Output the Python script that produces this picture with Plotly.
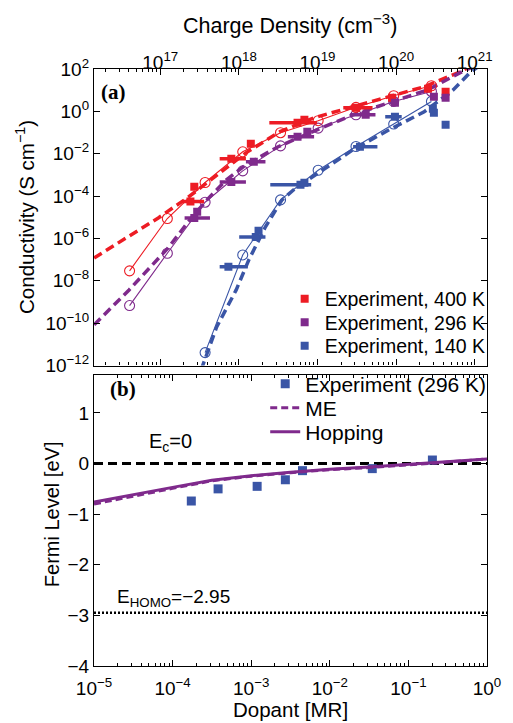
import plotly.graph_objects as go

# ---------------- Panel (a): conductivity vs charge density ----------------
# Experiment, 400 K
red_exp_N = [2.42e17, 2.71e17, 8.02e17, 1.42e18, 5.58e18, 6.82e18, 3.09e19, 8.89e19, 2.55e20, 4.27e20]
red_exp_sigma = [5.5e-5, 2.75e-4, 5.75e-3, 2.95e-2, 0.288, 0.398, 1.48, 4.37, 11.7, 8.5]
red_exp_Nlo = [1.93e17, 2.71e17, 5.70e17, 1.42e18, 2.44e18, 6.82e18, 2.13e19, 8.89e19, 2.55e20, 4.27e20]
red_exp_Nhi = [3.61e17, 2.71e17, 1.23e18, 1.42e18, 9.89e18, 6.82e18, 5.02e19, 8.89e19, 2.55e20, 4.27e20]
# Experiment, 296 K
pur_exp_N = [2.71e17, 2.95e17, 8.02e17, 1.55e18, 5.58e18, 7.43e18, 4.11e19, 9.68e19, 3.03e20, 4.27e20]
pur_exp_sigma = [9.3e-6, 1.82e-5, 4.68e-4, 4.17e-3, 0.063, 0.110, 0.692, 2.57, 4.90, 4.37]
pur_exp_Nlo = [2.04e17, 2.95e17, 5.70e17, 1.23e18, 4.20e18, 7.43e18, 2.61e19, 9.68e19, 3.03e20, 4.27e20]
pur_exp_Nhi = [4.29e17, 2.95e17, 1.23e18, 2.18e18, 9.06e18, 7.43e18, 5.47e19, 9.68e19, 3.03e20, 4.27e20]
# Experiment, 140 K
blu_exp_N = [7.36e17, 1.64e18, 1.78e18, 6.08e18, 6.82e18, 3.47e19, 9.68e19, 2.94e20, 3.03e20, 4.27e20]
blu_exp_sigma = [4.57e-8, 1.17e-6, 2.29e-6, 3.39e-4, 4.27e-4, 0.0214, 0.562, 1.32, 0.851, 0.234]
blu_exp_Nlo = [5.70e17, 1.01e18, 1.78e18, 2.51e18, 6.82e18, 2.84e19, 7.28e19, 2.94e20, 3.03e20, 4.27e20]
blu_exp_Nhi = [1.30e18, 2.18e18, 1.78e18, 8.32e18, 6.82e18, 5.79e19, 1.18e20, 2.94e20, 3.03e20, 4.27e20]

# Hopping model (thin lines with open circles)
hop_N = [4.07e16, 1.23e17, 3.72e17, 1.12e18, 3.39e18, 1.02e19, 3.09e19, 9.33e19, 2.82e20]
red_hop_sigma = [2.95e-8, 8.7e-6, 4.37e-4, 1.23e-2, 9.8e-2, 0.363, 1.55, 5.50, 16.2]
pur_hop_sigma = [6.76e-10, 2.0e-7, 5.13e-5, 1.55e-3, 2.34e-2, 0.162, 0.692, 2.95, 8.7]
blu_hop_N = [3.72e17, 1.12e18, 3.39e18, 1.02e19, 3.09e19, 9.33e19, 2.82e20]
blu_hop_sigma = [4.07e-12, 1.66e-7, 6.6e-5, 1.66e-3, 2.19e-2, 0.251, 2.95]

# ME model (thick dashed lines)
red_me_N = [1.44e16, 4.01e16, 9.44e16, 2.22e17, 5.22e17, 1.23e18, 3.34e18, 9.06e18, 2.84e19, 8.17e19, 2.28e20, 6.55e20, 1.16e21]
red_me_sigma = [1.2e-7, 1.32e-6, 9.3e-6, 8.3e-5, 1.0e-3, 1.10e-2, 0.110, 0.50, 1.66, 4.90, 14.5, 74, 219]
pur_me_N = [1.44e16, 4.01e16, 1.26e17, 2.22e17, 3.93e17, 6.95e17, 1.23e18, 3.16e18, 9.89e18, 2.84e19, 8.17e19, 2.55e20, 6.55e20, 1.16e21]
pur_me_sigma = [8.3e-11, 3.7e-9, 3.55e-7, 5.5e-6, 6.6e-5, 5.9e-4, 3.02e-3, 2.14e-2, 0.135, 0.692, 2.57, 10.5, 67.6, 178]
blu_me_N = [3.31e17, 5.22e17, 9.25e17, 1.34e18, 2.18e18, 3.54e18, 5.13e18, 8.32e18, 2.84e19, 8.17e19, 2.28e20, 5.36e20, 8.71e20, 1.16e21]
blu_me_sigma = [6.2e-13, 6.6e-11, 3.7e-9, 9.8e-8, 3.55e-6, 6.6e-5, 2.19e-4, 7.2e-4, 1.55e-2, 0.135, 0.955, 10.5, 67.6, 145]

# ---------------- Panel (b): Fermi level vs dopant ----------------
dopant_grid = [1e-5, 3.16e-5, 1e-4, 3.16e-4, 1e-3, 3.16e-3, 1e-2, 3.16e-2, 0.1, 0.316, 1.0]
fermi_me = [-0.80, -0.64, -0.49, -0.34, -0.25, -0.18, -0.12, -0.08, -0.03, 0.03, 0.09]
fermi_hop = [-0.76, -0.61, -0.47, -0.33, -0.24, -0.17, -0.11, -0.07, -0.02, 0.03, 0.09]
exp_dopant = [1.73e-4, 3.79e-4, 1.19e-3, 2.72e-3, 4.49e-3, 3.47e-2, 0.202]
exp_fermi = [-0.74, -0.50, -0.45, -0.32, -0.14, -0.10, 0.07]
E_C = 0.0
E_HOMO = -2.95
dopant_span = [1e-5, 1.0]

# tick labels
N_ticks = [1e17, 1e18, 1e19, 1e20, 1e21]
N_ticktext = ["10<sup>17</sup>", "10<sup>18</sup>", "10<sup>19</sup>", "10<sup>20</sup>", "10<sup>21</sup>"]
sig_ticks = [1e-12, 1e-10, 1e-8, 1e-6, 1e-4, 1e-2, 1, 1e2]
sig_ticktext = ["10<sup>−12</sup>", "10<sup>−10</sup>", "10<sup>−8</sup>", "10<sup>−6</sup>",
                "10<sup>−4</sup>", "10<sup>−2</sup>", "10<sup>0</sup>", "10<sup>2</sup>"]
dop_ticks = [1e-5, 1e-4, 1e-3, 1e-2, 1e-1, 1]
dop_ticktext = ["10<sup>−5</sup>", "10<sup>−4</sup>", "10<sup>−3</sup>", "10<sup>−2</sup>", "10<sup>−1</sup>", "10<sup>0</sup>"]
fermi_ticks = [-4, -3, -2, -1, 0, 1]

RED = "#ED1C24"
PUR = "#7F2A8C"
BLU = "#3A55A6"
FONT = "Liberation Sans, Arial, sans-serif"

fig = go.Figure()

# ME dashed
for n, s, c in [(red_me_N, red_me_sigma, RED), (pur_me_N, pur_me_sigma, PUR), (blu_me_N, blu_me_sigma, BLU)]:
    fig.add_trace(go.Scatter(x=n, y=s, mode="lines", line=dict(color=c, width=3.5, dash="9px,5px"),
                             showlegend=False, xaxis="x", yaxis="y", hoverinfo="skip"))
# Hopping thin lines with circles
for n, s, c in [(hop_N, red_hop_sigma, RED), (hop_N, pur_hop_sigma, PUR), (blu_hop_N, blu_hop_sigma, BLU)]:
    fig.add_trace(go.Scatter(x=n, y=s, mode="lines+markers", line=dict(color=c, width=1.1),
                             marker=dict(symbol="circle-open", size=10, color=c, line=dict(width=1.1)),
                             showlegend=False, xaxis="x", yaxis="y"))
# Experiments
for n, s, lo, hi, c, name, lg in [
    (red_exp_N, red_exp_sigma, red_exp_Nlo, red_exp_Nhi, RED, "Experiment, 400 K", "legend"),
    (pur_exp_N, pur_exp_sigma, pur_exp_Nlo, pur_exp_Nhi, PUR, "Experiment, 296 K", "legend2"),
    (blu_exp_N, blu_exp_sigma, blu_exp_Nlo, blu_exp_Nhi, BLU, "Experiment, 140 K", "legend3"),
]:
    fig.add_trace(go.Scatter(
        x=n, y=s, mode="markers", name=name,
        marker=dict(symbol="square", size=8, color=c),
        error_x=dict(type="data", symmetric=False,
                     array=[h - v for h, v in zip(hi, n)],
                     arrayminus=[v - l for v, l in zip(n, lo)],
                     color=c, thickness=3.5, width=0),
        xaxis="x", yaxis="y", legend=lg))

# Panel (b)
fig.add_trace(go.Scatter(x=dopant_span, y=[E_C, E_C], mode="lines",
                         line=dict(color="black", width=3, dash="9px,5px"),
                         showlegend=False, xaxis="x2", yaxis="y2"))
fig.add_trace(go.Scatter(x=dopant_span, y=[E_HOMO, E_HOMO], mode="lines",
                         line=dict(color="black", width=2.5, dash="2px,2px"),
                         showlegend=False, xaxis="x2", yaxis="y2"))
fig.add_trace(go.Scatter(x=exp_dopant, y=exp_fermi, mode="markers", name="Experiment (296 K)",
                         marker=dict(symbol="square", size=9, color=BLU),
                         xaxis="x2", yaxis="y2", legend="legend4"))
fig.add_trace(go.Scatter(x=dopant_grid, y=fermi_me, mode="lines", name="ME",
                         line=dict(color=PUR, width=3, dash="7px,4px"),
                         xaxis="x2", yaxis="y2", legend="legend5"))
fig.add_trace(go.Scatter(x=dopant_grid, y=fermi_hop, mode="lines", name="Hopping",
                         line=dict(color=PUR, width=3),
                         xaxis="x2", yaxis="y2", legend="legend6"))

L, R, T, B = 94, 15, 69, 57
W, H = 513, 723
pw = W - L - R
ph = H - T - B


def px(xp):
    return (xp - L) / pw


def py(yp):
    return (H - B - yp) / ph


def minor_vals(lo, hi):
    return [k * 10.0 ** e for e in range(lo, hi) for k in range(2, 10)]


axis_common = dict(showline=True, linecolor="black", linewidth=1.2, mirror="ticks",
                   ticks="inside", ticklen=6, tickwidth=1, tickcolor="black",
                   showgrid=False, zeroline=False,
                   tickfont=dict(family=FONT, size=19, color="black"))


def leg(xp, yp, size):
    return dict(x=px(xp), y=py(yp), xanchor="left", yanchor="middle",
                bgcolor="rgba(0,0,0,0)", font=dict(family=FONT, size=size, color="black"),
                itemwidth=30, tracegroupgap=0)


fig.update_layout(
    width=W, height=H,
    margin=dict(l=L, r=R, t=T, b=B),
    paper_bgcolor="white", plot_bgcolor="white",
    font=dict(family=FONT, color="black"),
    xaxis=dict(type="log", range=[16.157, 21.157], side="top", anchor="y",
               tickmode="array", tickvals=N_ticks, ticktext=N_ticktext, ticklabelstandoff=-9,
               minor=dict(tickmode="array", tickvals=minor_vals(16, 21), ticks="inside",
                          ticklen=3, tickcolor="black", showgrid=False),
               **axis_common),
    yaxis=dict(type="log", range=[-12, 2], domain=[py(365.5), 1], anchor="x",
               tickmode="array", tickvals=sig_ticks, ticktext=sig_ticktext,
               **axis_common),
    xaxis2=dict(type="log", range=[-5, 0], anchor="y2", ticklabelstandoff=5,
                tickmode="array", tickvals=dop_ticks, ticktext=dop_ticktext,
                minor=dict(tickmode="array", tickvals=minor_vals(-5, 0), ticks="inside",
                           ticklen=3, tickcolor="black", showgrid=False),
                **axis_common),
    yaxis2=dict(range=[-4, 1.75], domain=[0, py(375)], anchor="x2",
                tickmode="array", tickvals=fermi_ticks,
                **axis_common),
    legend=leg(290, 299, 19.5),
    legend2=leg(290, 322.5, 19.5),
    legend3=leg(290, 346, 19.5),
    legend4=leg(270, 384, 21),
    legend5=leg(270, 408, 21),
    legend6=leg(270, 432, 21),
    showlegend=True,
)

ann = [
    dict(text="Charge Density (cm<sup>−3</sup>)", x=px(295), y=py(24), size=21.5, angle=0, xa="center"),
    dict(text="Conductivity (S cm<sup>−1</sup>)", x=px(23), y=py(217), size=20.5, angle=-90, xa="center"),
    dict(text="Fermi Level [eV]", x=px(51), y=py(514), size=20, angle=-90, xa="center"),
    dict(text="Dopant [MR]", x=px(296), y=py(709), size=20.5, angle=0, xa="center"),
    dict(text="E<sub>c</sub>=0", x=px(148), y=py(442), size=20, angle=0, xa="left"),
    dict(text="E<sub>HOMO</sub>=−2.95", x=px(116), y=py(598), size=19, angle=0, xa="left"),
]
for a in ann:
    fig.add_annotation(text=a["text"], x=a["x"], y=a["y"], xref="paper", yref="paper",
                       xanchor=a["xa"], yanchor="middle", textangle=a["angle"], showarrow=False,
                       font=dict(family=FONT, size=a["size"], color="black"))
for t, xx, yy in [("(a)", 114, 92), ("(b)", 124, 389)]:
    fig.add_annotation(text="<b>" + t + "</b>", x=px(xx), y=py(yy), xref="paper", yref="paper",
                       xanchor="center", yanchor="middle", showarrow=False,
                       font=dict(family="Liberation Serif, Times New Roman, serif", size=21, color="black"))

fig.write_html("out.html")
